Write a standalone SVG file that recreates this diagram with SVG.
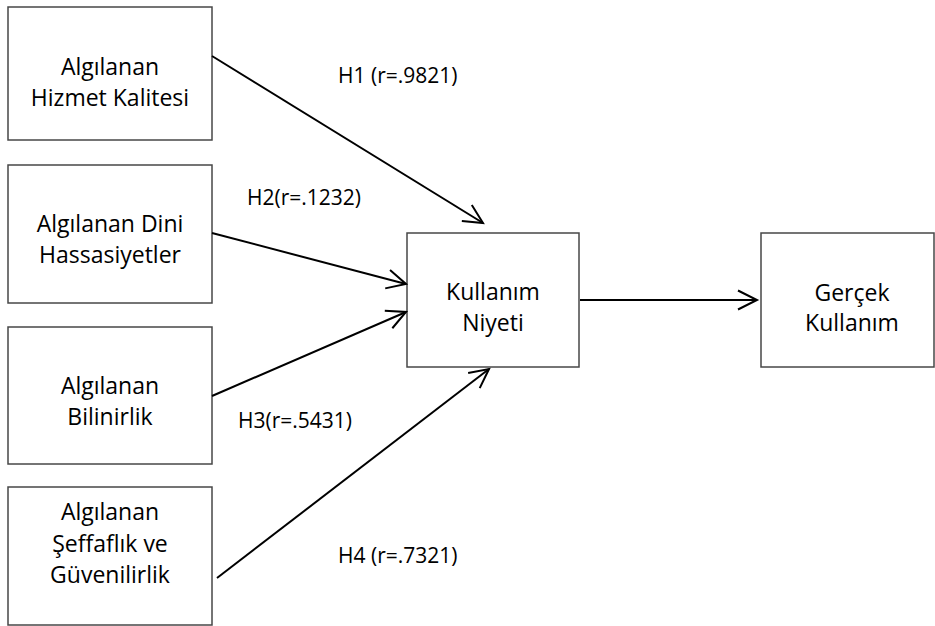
<svg xmlns="http://www.w3.org/2000/svg" width="935" height="626" viewBox="0 0 935 626">
<defs>
<style>
.box{fill:#fff;stroke:#474747;stroke-width:1.5}
.t{font-family:"Open Sans","Liberation Sans",sans-serif;font-size:23px;fill:#000;text-anchor:middle}
.lbl{font-family:"Open Sans","Liberation Sans",sans-serif;font-size:21px;fill:#000}
.edge{stroke:#000;stroke-width:2;fill:none;marker-end:url(#arr)}
</style>
<marker id="arr" markerUnits="userSpaceOnUse" viewBox="-24 -14 28 28" markerWidth="28" markerHeight="28" refX="0" refY="0" orient="auto">
<path d="M-19,-9.5 L0,0 L-19,9.5" fill="none" stroke="#000" stroke-width="2"/>
</marker>
</defs>
<rect width="935" height="626" fill="#fff"/>
<g id="n1"><rect class="box" x="8" y="7" width="204" height="133"/><text class="t" x="110" y="75">Algılanan</text><text class="t" x="110" y="106">Hizmet Kalitesi</text></g>
<g id="n2"><rect class="box" x="8" y="165" width="204" height="138"/><text class="t" x="110" y="232">Algılanan Dini</text><text class="t" x="110" y="263">Hassasiyetler</text></g>
<g id="n3"><rect class="box" x="8" y="327" width="204" height="137"/><text class="t" x="110" y="394">Algılanan</text><text class="t" x="110" y="425">Bilinirlik</text></g>
<g id="n4"><rect class="box" x="8" y="487" width="204" height="138"/><text class="t" x="110" y="520">Algılanan</text><text class="t" x="110" y="552">Şeffaflık ve</text><text class="t" x="110" y="583">Güvenilirlik</text></g>
<g id="n5"><rect class="box" x="407" y="233" width="172" height="134"/><text class="t" x="493" y="300">Kullanım</text><text class="t" x="493" y="331">Niyeti</text></g>
<g id="n6"><rect class="box" x="761" y="233" width="173" height="134"/><text class="t" x="852" y="301">Gerçek</text><text class="t" x="852" y="331">Kullanım</text></g>
<g id="edges">
<line class="edge" x1="212" y1="56" x2="483" y2="223"/>
<line class="edge" x1="212" y1="233" x2="406" y2="284"/>
<line class="edge" x1="212" y1="396" x2="406" y2="312"/>
<line class="edge" x1="217" y1="578" x2="489" y2="369"/>
<line class="edge" x1="580" y1="300" x2="757" y2="300"/>
</g>
<g id="labels">
<text class="lbl" x="338" y="83">H1 (r=.9821)</text>
<text class="lbl" x="247" y="205">H2(r=.1232)</text>
<text class="lbl" x="238" y="428">H3(r=.5431)</text>
<text class="lbl" x="338" y="563">H4 (r=.7321)</text>
</g>
</svg>
